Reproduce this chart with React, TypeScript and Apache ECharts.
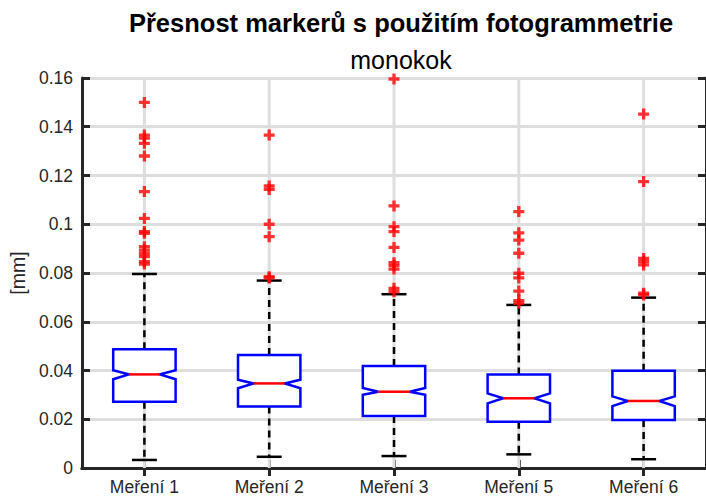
import React, { useEffect, useRef } from "react";
import * as echarts from "echarts";

const categories = ["Meření 1", "Meření 2", "Meření 3", "Meření 5", "Meření 6"];
const q1 = [0.0272, 0.0252, 0.0213, 0.019, 0.0197];
const q3 = [0.0487, 0.0464, 0.0418, 0.0384, 0.0399];
const medians = [0.0384, 0.0347, 0.0313, 0.0286, 0.0275];
const notchLow = [0.0364, 0.0327, 0.03, 0.0265, 0.0254];
const notchHigh = [0.0401, 0.0362, 0.0328, 0.0306, 0.0294];
const whiskerLow = [0.0033, 0.0046, 0.0049, 0.0056, 0.0036];
const whiskerHigh = [0.0796, 0.0769, 0.0713, 0.0669, 0.0699];

const outliers1 = [0.15, 0.1366, 0.1353, 0.1332, 0.128, 0.1134, 0.1024, 0.097, 0.0963, 0.0908, 0.0894, 0.088, 0.0867, 0.0847, 0.0837];
const outliers2 = [0.1366, 0.1157, 0.1143, 0.1, 0.0949, 0.0785, 0.078];
const outliers3 = [0.1596, 0.1075, 0.099, 0.097, 0.0905, 0.0842, 0.083, 0.0816, 0.0737, 0.0723];
const outliers5 = [0.1052, 0.0965, 0.0935, 0.0881, 0.0799, 0.078, 0.0726, 0.0687, 0.0676];
const outliers6 = [0.1452, 0.1175, 0.086, 0.0847, 0.0833, 0.0717, 0.071];
const outlierGroups = [outliers1, outliers2, outliers3, outliers5, outliers6];

const yTickLabels = ["0", "0.02", "0.04", "0.06", "0.08", "0.1", "0.12", "0.14", "0.16"];

const TITLE = "Přesnost markerů s použitím fotogrammetrie";
const SUBTITLE = "monokok";
const Y_NAME = "[mm]";

const AXIS_COLOR = "#262626";
const GRID_COLOR = "#dedede";
const FONT = "'Liberation Sans', Arial, Helvetica, sans-serif";

export default function App() {
  const ref = useRef<HTMLDivElement>(null);

  useEffect(() => {
    if (!ref.current) return;
    const chart = echarts.init(ref.current, undefined, { renderer: "svg" });

    const boxData = categories.map((_, i) => [
      i,
      q1[i],
      notchLow[i],
      medians[i],
      notchHigh[i],
      q3[i],
      whiskerLow[i],
      whiskerHigh[i],
    ]);

    const outlierData: number[][] = [];
    outlierGroups.forEach((g, i) => g.forEach((v) => outlierData.push([i, v])));

    const plus =
      "path://M3.5,0 L6.5,0 L6.5,3.5 L10,3.5 L10,6.5 L6.5,6.5 L6.5,10 L3.5,10 L3.5,6.5 L0,6.5 L0,3.5 L3.5,3.5 Z";

    const renderItem = (params: any, api: any) => {
      const idx = api.value(0);
      const band = api.size([1, 0])[0];
      const w = band * 0.25;
      const nw = band * 0.125;
      const cw = band * 0.1;
      const p = (v: number) => api.coord([idx, v]);
      const x = p(0)[0];
      const yQ1 = p(api.value(1))[1];
      const yNL = p(api.value(2))[1];
      const yMed = p(api.value(3))[1];
      const yNH = p(api.value(4))[1];
      const yQ3 = p(api.value(5))[1];
      const yWL = p(api.value(6))[1];
      const yWH = p(api.value(7))[1];
      const yTop = p(0.16)[1];
      const yBot = p(0)[1];
      return {
        type: "group",
        children: [
          {
            type: "line",
            shape: { x1: x, y1: yTop, x2: x, y2: yBot },
            style: { stroke: GRID_COLOR, lineWidth: 3 },
            silent: true,
          },
          {
            type: "line",
            shape: { x1: x, y1: yQ3, x2: x, y2: yWH },
            style: { stroke: "#000", lineWidth: 2.5, lineDash: [7, 5] },
          },
          {
            type: "line",
            shape: { x1: x, y1: yQ1, x2: x, y2: yWL },
            style: { stroke: "#000", lineWidth: 2.5, lineDash: [7, 5] },
          },
          {
            type: "line",
            shape: { x1: x - cw, y1: yWH, x2: x + cw, y2: yWH },
            style: { stroke: "#000", lineWidth: 2.5 },
          },
          {
            type: "line",
            shape: { x1: x - cw, y1: yWL, x2: x + cw, y2: yWL },
            style: { stroke: "#000", lineWidth: 2.5 },
          },
          {
            type: "polygon",
            shape: {
              points: [
                [x - w, yQ3],
                [x + w, yQ3],
                [x + w, yNH],
                [x + nw, yMed],
                [x + w, yNL],
                [x + w, yQ1],
                [x - w, yQ1],
                [x - w, yNL],
                [x - nw, yMed],
                [x - w, yNH],
              ],
            },
            style: { fill: "#fff", stroke: "#0000ff", lineWidth: 2.5 },
          },
          {
            type: "line",
            shape: { x1: x - nw, y1: yMed, x2: x + nw, y2: yMed },
            style: { stroke: "#ff0000", lineWidth: 2.5 },
          },
        ],
      };
    };

    const axisLabelStyle = {
      color: AXIS_COLOR,
      fontFamily: FONT,
      fontSize: 17.5,
    };

    chart.setOption({
      animation: false,
      backgroundColor: "#fff",
      title: [
        {
          text: TITLE,
          left: 396,
          top: 5,
          textAlign: "center",
          textStyle: { fontFamily: FONT, fontSize: 25.5, fontWeight: "bold", color: "#000" },
        },
        {
          text: SUBTITLE,
          left: 396,
          top: 42,
          textAlign: "center",
          textStyle: { fontFamily: FONT, fontSize: 25, fontWeight: "normal", color: "#000" },
        },
      ],
      grid: { left: 82, top: 78, width: 630, height: 390, containLabel: false },
      xAxis: [
        {
          type: "category",
          data: categories,
          position: "bottom",
          boundaryGap: true,
          axisLine: { show: true, lineStyle: { color: AXIS_COLOR, width: 3 } },
          axisTick: { show: true, inside: true, alignWithLabel: true, length: 8, lineStyle: { color: AXIS_COLOR, width: 3 } },
          axisLabel: { ...axisLabelStyle, margin: 10 },
          splitLine: { show: false },
        },
        {
          type: "category",
          data: categories,
          position: "top",
          boundaryGap: true,
          axisLine: { show: true, lineStyle: { color: AXIS_COLOR, width: 3 } },
          axisTick: { show: true, inside: true, alignWithLabel: true, length: 8, lineStyle: { color: AXIS_COLOR, width: 3 } },
          axisLabel: { show: false },
          splitLine: { show: false },
        },
      ],
      yAxis: [
        {
          type: "value",
          min: 0,
          max: 0.16,
          interval: 0.02,
          position: "left",
          name: Y_NAME,
          nameLocation: "middle",
          nameGap: 47,
          nameTextStyle: { fontFamily: FONT, fontSize: 19.5, color: AXIS_COLOR },
          axisLine: { show: true, lineStyle: { color: AXIS_COLOR, width: 3 } },
          axisTick: { show: true, inside: true, length: 8, lineStyle: { color: AXIS_COLOR, width: 3 } },
          axisLabel: {
            ...axisLabelStyle,
            margin: 9,
            formatter: (_v: number, i: number) => yTickLabels[i] ?? "",
          },
          splitLine: { show: true, lineStyle: { color: GRID_COLOR, width: 3 } },
        },
        {
          type: "value",
          min: 0,
          max: 0.16,
          interval: 0.02,
          position: "right",
          axisLine: { show: true, lineStyle: { color: AXIS_COLOR, width: 3 } },
          axisTick: { show: true, inside: true, length: 8, lineStyle: { color: AXIS_COLOR, width: 3 } },
          axisLabel: { show: false },
          splitLine: { show: false },
        },
      ],
      series: [
        {
          type: "custom",
          xAxisIndex: 0,
          yAxisIndex: 0,
          data: boxData,
          renderItem,
          z: 2,
          clip: false,
        },
        {
          type: "scatter",
          xAxisIndex: 0,
          yAxisIndex: 0,
          data: outlierData,
          symbol: plus,
          symbolSize: 11,
          itemStyle: { color: "#ff0000" },
          z: 5,
        },
      ],
    });

    return () => chart.dispose();
  }, []);

  return (
    <div
      ref={ref}
      style={{ position: "fixed", left: 0, top: 0, width: 706, height: 497 }}
    />
  );
}
